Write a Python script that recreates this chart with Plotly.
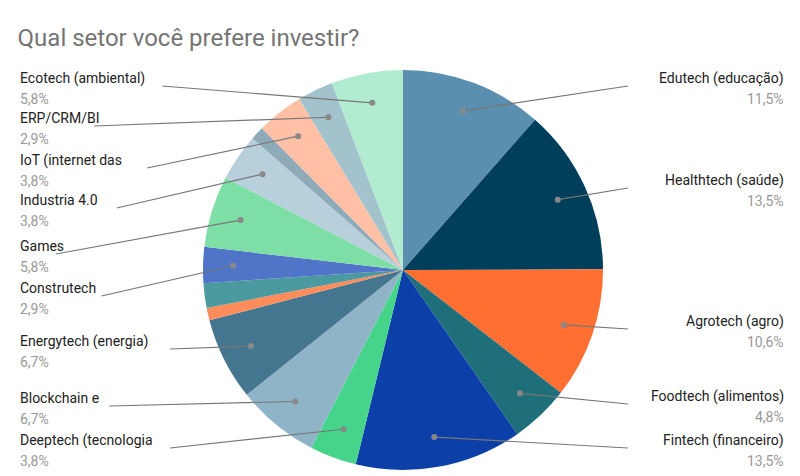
import math
import plotly.graph_objects as go

labels = ["Edutech (educação)", "Healthtech (saúde)", "Agrotech (agro)", "Foodtech (alimentos)",
          "Fintech (financeiro)", "Deeptech (tecnologia", "Blockchain e", "Energytech (energia)",
          "Outro 1", "Outro 2", "Construtech", "Games", "Industria 4.0", "Outro 3",
          "IoT (internet das", "ERP/CRM/BI", "Ecotech (ambiental)"]
values = [11.5, 13.5, 10.6, 4.8, 13.5, 3.8, 6.7, 6.7, 1.0, 2.0, 2.9, 5.8, 3.8, 1.1, 3.8, 2.9, 5.8]
colors = ["#5b8fb0", "#003f5c", "#ff6f31", "#1e6f7a", "#0d3fa8", "#45d48a", "#8fb4c8", "#45768f",
          "#ff8c5a", "#4a9aa0", "#4f74c8", "#7ddea6", "#b8cfdc", "#8faab8", "#ffc0a6", "#a3c3cc", "#b2ecd0"]
# label rows (pixel y of the label text) per slice; None = no label
label_y = [70, 172, 313, 388, 432, 432, 390, 333, None, None, 280, 238, 192, None, 152, 110, 70]

W, H = 800, 476
CX, CY, R = 395, 262, 200

fig = go.Figure(go.Pie(
    labels=labels, values=values, textinfo="none", sort=False,
    direction="clockwise", rotation=0, hoverinfo="label+percent",
    marker=dict(colors=colors, line=dict(width=0)), showlegend=False,
    domain=dict(x=[(CX - R) / W, (CX + R) / W], y=[1 - (CY + R) / H, 1 - (CY - R) / H]),
))

total = sum(values)
cum = 0
for lab, val, ly in zip(labels, values, label_y):
    mid = (cum + val / 2) / total * 2 * math.pi
    cum += val
    if ly is None:
        continue
    ax = CX + 0.85 * R * math.sin(mid)
    ay = CY - 0.85 * R * math.cos(mid)
    right = math.sin(mid) > 0
    pct = ("%.1f" % val).replace(".", ",") + "%"
    tx = 778 if right else 10
    anchor = "right" if right else "left"
    ex = 620 if right else 10 + len(lab) * 7.6
    fig.add_shape(type="line", xref="paper", yref="paper",
                  x0=ax / W, y0=1 - ay / H, x1=ex / W, y1=1 - (ly + 8) / H,
                  line=dict(color="#777", width=1.2))
    fig.add_shape(type="circle", xref="paper", yref="paper",
                  x0=(ax - 3) / W, x1=(ax + 3) / W, y0=1 - (ay + 3) / H, y1=1 - (ay - 3) / H,
                  fillcolor="#888", line=dict(width=0))
    fig.add_annotation(x=tx / W, y=1 - ly / H, xref="paper", yref="paper", text=lab,
                       xanchor=anchor, yanchor="middle", showarrow=False,
                       font=dict(size=14, color="#222", family="Roboto"))
    fig.add_annotation(x=tx / W, y=1 - (ly + 21) / H, xref="paper", yref="paper", text=pct,
                       xanchor=anchor, yanchor="middle", showarrow=False,
                       font=dict(size=14, color="#999", family="Roboto"))

fig.update_layout(
    width=W, height=H, paper_bgcolor="white",
    margin=dict(l=0, r=0, t=0, b=0),
    title=dict(text="Qual setor você prefere investir?", x=0.012, y=0.955, xanchor="left",
               font=dict(size=24, color="#757575", family="Roboto")),
)
fig.write_html("out.html")
